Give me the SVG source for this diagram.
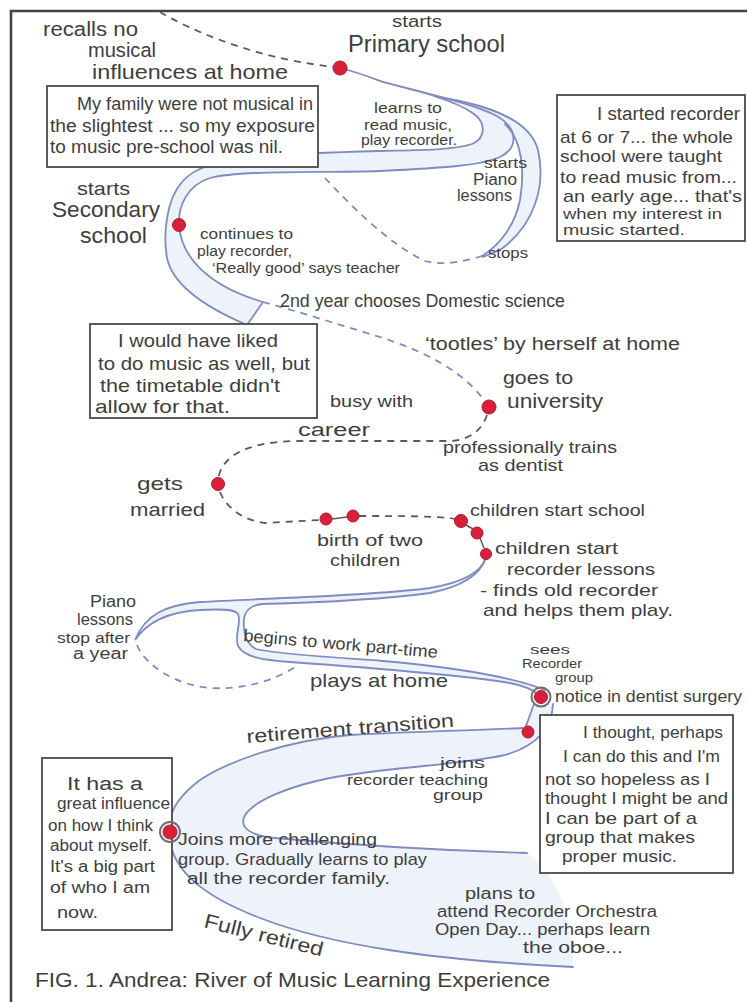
<svg xmlns="http://www.w3.org/2000/svg" width="747" height="1002" viewBox="0 0 747 1002">
<style>
.t{font-family:"Liberation Sans",Arial,sans-serif;fill:#3e3e3e}
.box{fill:#fff;stroke:#4a4a4a;stroke-width:1.8}
.dot{fill:#d9203a;stroke:#b3172c;stroke-width:1}
.ring{fill:none;stroke:#6e6e6e;stroke-width:2}
.bank{fill:none;stroke:#7f8cc2;stroke-width:1.8;stroke-linecap:round}
.water{fill:#eef2fa;stroke:none}
.dash{fill:none;stroke:#5a5a5a;stroke-width:1.8;stroke-dasharray:7 6}
.dashb{fill:none;stroke:#7f8cc2;stroke-width:1.8;stroke-dasharray:7 6}
.link{fill:none;stroke:#5a5a5a;stroke-width:1.5}
</style>
<rect width="747" height="1002" fill="#fff"/>
<path d="M11,1002 L11,11 L747,11" fill="none" stroke="#444" stroke-width="2.6"/>

<g id="connectors">
  <!-- top river -->
  <path class="water" d="M383,82 C420,92 480,105 500,118 C518,130 518,148 500,157 C480,166 440,168 380,171 C320,173 240,170 210,178 C188,185 178,205 179,225 C181,255 205,285 263,302 L247,325 C200,305 172,282 167,258 C163,235 166,200 182,182 C195,166 220,161 260,157 C300,153 340,152 380,151 C420,150 455,150 472,144 C486,138 486,123 474,114 C455,100 415,90 383,82 Z"/>
  <path class="water" d="M437,97 C490,105 530,120 538,150 C546,185 535,225 500,250 L483,257 C500,245 515,225 520,200 C525,170 522,140 505,124 Z"/>
  <path class="bank" d="M340,68 C360,73 372,78 383,82 C415,90 455,100 474,114 C486,123 486,138 472,144 C455,150 420,150 380,151 C340,152 300,153 260,157 C220,161 195,166 182,182 C166,200 163,235 167,258 C172,282 200,305 247,325 L263,302"/>
  <path class="bank" d="M383,82 C420,92 480,105 500,118 C518,130 518,148 500,157 C480,166 440,168 380,171 C320,173 240,170 210,178 C188,185 178,205 179,225 C181,255 205,285 263,302"/>
  <path class="bank" d="M437,97 C490,105 530,120 538,150 C546,185 535,225 500,250 L483,257"/>
  <path class="bank" d="M505,124 C522,140 525,170 520,200 C515,225 500,245 482,256"/>
  <path class="dashb" d="M325,178 C350,205 390,245 425,261 C445,266 465,261 482,256"/>
  <path class="dash" d="M160,12 C190,30 240,50 290,60 C310,64 325,66 333,67"/>
  <path class="dashb" d="M263,302 C300,312 340,325 380,337 C420,350 460,368 484,400"/>
  <path class="dash" d="M487,415 C482,430 470,440 450,441 L300,441 C265,441 240,448 228,460 C220,468 218,476 218,484"/>
  <path class="dash" d="M220,492 C225,505 240,520 265,523 L320,520"/>
  <path class="link" d="M332,519 L347,517"/>
  <path class="dash" d="M359,516 C400,516 440,516 455,519"/>
  <path class="link" d="M466,525 L473,529 M480,538 L484,548"/>
  <!-- middle river -->
  <path class="water" d="M486,557 C482,572 465,582 430,588 C370,596 270,598 200,602 C165,605 145,615 135,640 C145,625 165,612 200,610 C220,609 235,609 238,614 C242,622 234,635 238,646 C244,657 262,660 290,662 C360,667 460,675 510,683 C525,686 533,690 537,694 L545,690 C510,676 450,667 383,661 C330,657 275,654 256,649 C245,643 243,630 244,618 C246,609 252,605 262,604 C300,603 370,601 430,593 C455,588 480,578 486,557 Z"/>
  <path class="bank" d="M486,557 C482,572 465,582 430,588 C370,596 270,598 200,602 C165,605 145,615 135,640 C145,625 165,612 200,610 C220,609 235,609 238,614 C242,622 234,635 238,646 C244,657 262,660 290,662 C360,667 460,675 510,683 C525,686 533,690 537,694"/>
  <path class="bank" d="M486,557 C480,578 455,588 430,593 C370,601 300,603 262,604 C252,605 246,609 244,618 C243,630 245,643 256,649 C275,654 330,657 383,661 C450,667 510,676 545,690"/>
  <path class="dashb" d="M137,645 C145,665 175,685 210,688 C245,690 275,680 295,667"/>
  <!-- bottom river -->
  <path class="water" d="M535,704 L523,728 C490,730 420,731 350,735 C290,740 230,760 200,780 C180,795 171,810 170,822 L170,842 C175,870 200,895 260,918 C330,945 430,960 573,967 C575,930 560,875 527,853 C430,850 330,843 275,838 C252,836 238,828 245,815 C255,800 290,786 330,778 C380,768 460,765 505,755 C540,745 552,725 553,704 Z"/>
  <path class="bank" d="M534,704 L526,726"/>
  <path class="bank" d="M523,728 C490,730 420,731 350,735 C290,740 230,760 200,780 C180,795 171,810 170,822"/>
  <path class="bank" d="M553,704 C552,725 540,745 505,755 C460,765 380,768 330,778 C290,786 255,800 245,815 C238,828 252,836 275,838 C330,843 430,850 527,853"/>
  <path class="bank" d="M170,842 C175,870 200,895 260,918 C330,945 430,960 573,967"/>
</g>

<g id="box-family">
  <rect class="box" x="47" y="86" width="271" height="81"/>
  <text class="t" x="77" y="110" font-size="18" textLength="236" lengthAdjust="spacingAndGlyphs">My family were not musical in</text>
  <text class="t" x="50" y="132" font-size="18" textLength="265" lengthAdjust="spacingAndGlyphs">the slightest ... so my exposure</text>
  <text class="t" x="50" y="153" font-size="18" textLength="233" lengthAdjust="spacingAndGlyphs">to music pre-school was nil.</text>
</g>
<g id="box-recorder">
  <rect class="box" x="557" y="95" width="188" height="146"/>
  <text class="t" x="597" y="120" font-size="18" textLength="143" lengthAdjust="spacingAndGlyphs">I started recorder</text>
  <text class="t" x="560" y="143" font-size="17" textLength="173" lengthAdjust="spacingAndGlyphs">at 6 or 7... the whole</text>
  <text class="t" x="560" y="162" font-size="17" textLength="162" lengthAdjust="spacingAndGlyphs">school were taught</text>
  <text class="t" x="560" y="183" font-size="17" textLength="177" lengthAdjust="spacingAndGlyphs">to read music from...</text>
  <text class="t" x="563" y="202" font-size="17" textLength="179" lengthAdjust="spacingAndGlyphs">an early age... that's</text>
  <text class="t" x="563" y="219" font-size="15" textLength="159" lengthAdjust="spacingAndGlyphs">when my interest in</text>
  <text class="t" x="563" y="235" font-size="15" textLength="122" lengthAdjust="spacingAndGlyphs">music started.</text>
</g>
<g id="box-timetable">
  <rect class="box" x="90" y="324" width="227" height="94"/>
  <text class="t" x="118" y="347" font-size="19" textLength="160" lengthAdjust="spacingAndGlyphs">I would have liked</text>
  <text class="t" x="98" y="370" font-size="19" textLength="212" lengthAdjust="spacingAndGlyphs">to do music as well, but</text>
  <text class="t" x="100" y="392" font-size="19" textLength="180" lengthAdjust="spacingAndGlyphs">the timetable didn't</text>
  <text class="t" x="95" y="413" font-size="19" textLength="135" lengthAdjust="spacingAndGlyphs">allow for that.</text>
</g>
<g id="box-thought">
  <rect class="box" x="540" y="715" width="193" height="158"/>
  <text class="t" x="583" y="738" font-size="17" textLength="140" lengthAdjust="spacingAndGlyphs">I thought, perhaps</text>
  <text class="t" x="563" y="762" font-size="17" textLength="157" lengthAdjust="spacingAndGlyphs">I can do this and I'm</text>
  <text class="t" x="545" y="785" font-size="17" textLength="165" lengthAdjust="spacingAndGlyphs">not so hopeless as I</text>
  <text class="t" x="545" y="804" font-size="17" textLength="183" lengthAdjust="spacingAndGlyphs">thought I might be and</text>
  <text class="t" x="545" y="824" font-size="17" textLength="152" lengthAdjust="spacingAndGlyphs">I can be part of a</text>
  <text class="t" x="545" y="843" font-size="17" textLength="150" lengthAdjust="spacingAndGlyphs">group that makes</text>
  <text class="t" x="562" y="862" font-size="17" textLength="115" lengthAdjust="spacingAndGlyphs">proper music.</text>
</g>
<g id="box-influence">
  <rect class="box" x="42" y="758" width="130" height="172"/>
  <text class="t" x="67" y="790" font-size="18" textLength="76" lengthAdjust="spacingAndGlyphs">It has a</text>
  <text class="t" x="57" y="809" font-size="16" textLength="113" lengthAdjust="spacingAndGlyphs">great influence</text>
  <text class="t" x="48" y="831" font-size="16" textLength="105" lengthAdjust="spacingAndGlyphs">on how I think</text>
  <text class="t" x="50" y="851" font-size="16" textLength="102" lengthAdjust="spacingAndGlyphs">about myself.</text>
  <text class="t" x="50" y="872" font-size="16" textLength="105" lengthAdjust="spacingAndGlyphs">It's a big part</text>
  <text class="t" x="50" y="893" font-size="16" textLength="100" lengthAdjust="spacingAndGlyphs">of who I am</text>
  <text class="t" x="57" y="918" font-size="16" textLength="41" lengthAdjust="spacingAndGlyphs">now.</text>
</g>

<g id="recalls">
  <text class="t" x="43" y="36" font-size="20" textLength="95" lengthAdjust="spacingAndGlyphs">recalls no</text>
  <text class="t" x="88" y="57" font-size="20" textLength="68" lengthAdjust="spacingAndGlyphs">musical</text>
  <text class="t" x="92" y="79" font-size="21" textLength="196" lengthAdjust="spacingAndGlyphs">influences at home</text>
</g>
<g id="primary-school">
  <circle class="dot" cx="340" cy="68" r="7"/>
  <text class="t" x="392" y="27" font-size="16" textLength="50" lengthAdjust="spacingAndGlyphs">starts</text>
  <text class="t" x="348" y="52" font-size="23" textLength="157" lengthAdjust="spacingAndGlyphs">Primary school</text>
</g>
<g id="learns">
  <text class="t" x="374" y="113" font-size="15" textLength="68" lengthAdjust="spacingAndGlyphs">learns to</text>
  <text class="t" x="364" y="130" font-size="15" textLength="88" lengthAdjust="spacingAndGlyphs">read music,</text>
  <text class="t" x="361" y="145" font-size="15" textLength="96" lengthAdjust="spacingAndGlyphs">play recorder.</text>
</g>
<g id="piano-starts">
  <text class="t" x="484" y="168" font-size="15" textLength="43" lengthAdjust="spacingAndGlyphs">starts</text>
  <text class="t" x="473" y="185" font-size="16" textLength="44" lengthAdjust="spacingAndGlyphs">Piano</text>
  <text class="t" x="457" y="201" font-size="16" textLength="55" lengthAdjust="spacingAndGlyphs">lessons</text>
</g>
<g id="stops">
  <text class="t" x="488" y="258" font-size="15" textLength="40" lengthAdjust="spacingAndGlyphs">stops</text>
</g>
<g id="secondary-school">
  <circle class="dot" cx="179" cy="225" r="6.5"/>
  <text class="t" x="77" y="195" font-size="19" textLength="53" lengthAdjust="spacingAndGlyphs">starts</text>
  <text class="t" x="52" y="217" font-size="22" textLength="108" lengthAdjust="spacingAndGlyphs">Secondary</text>
  <text class="t" x="80" y="243" font-size="22" textLength="67" lengthAdjust="spacingAndGlyphs">school</text>
</g>
<g id="continues">
  <text class="t" x="200" y="239" font-size="14" textLength="93" lengthAdjust="spacingAndGlyphs">continues to</text>
  <text class="t" x="197" y="256" font-size="14" textLength="95" lengthAdjust="spacingAndGlyphs">play recorder,</text>
  <text class="t" x="212" y="273" font-size="14" textLength="188" lengthAdjust="spacingAndGlyphs">‘Really good’ says teacher</text>
</g>
<g id="second-year">
  <text class="t" x="280" y="307" font-size="18" textLength="285" lengthAdjust="spacingAndGlyphs">2nd year chooses Domestic science</text>
</g>
<g id="tootles">
  <text class="t" x="425" y="350" font-size="18" textLength="255" lengthAdjust="spacingAndGlyphs">‘tootles’ by herself at home</text>
</g>
<g id="university">
  <circle class="dot" cx="489" cy="407" r="7"/>
  <text class="t" x="503" y="384" font-size="19" textLength="70" lengthAdjust="spacingAndGlyphs">goes to</text>
  <text class="t" x="507" y="408" font-size="21" textLength="96" lengthAdjust="spacingAndGlyphs">university</text>
</g>
<g id="career">
  <text class="t" x="330" y="407" font-size="17" textLength="83" lengthAdjust="spacingAndGlyphs">busy with</text>
  <text class="t" x="298" y="436" font-size="18" textLength="72" lengthAdjust="spacingAndGlyphs">career</text>
</g>
<g id="dentist">
  <text class="t" x="443" y="453" font-size="17" textLength="174" lengthAdjust="spacingAndGlyphs">professionally trains</text>
  <text class="t" x="478" y="471" font-size="17" textLength="85" lengthAdjust="spacingAndGlyphs">as dentist</text>
</g>
<g id="married">
  <circle class="dot" cx="218" cy="484" r="6.5"/>
  <text class="t" x="137" y="490" font-size="19" textLength="46" lengthAdjust="spacingAndGlyphs">gets</text>
  <text class="t" x="130" y="516" font-size="19" textLength="75" lengthAdjust="spacingAndGlyphs">married</text>
</g>
<g id="births">
  <circle class="dot" cx="326" cy="519" r="6"/>
  <circle class="dot" cx="353" cy="516" r="6"/>
  <text class="t" x="317" y="546" font-size="16" textLength="106" lengthAdjust="spacingAndGlyphs">birth of two</text>
  <text class="t" x="330" y="566" font-size="16" textLength="70" lengthAdjust="spacingAndGlyphs">children</text>
</g>
<g id="children-school">
  <circle class="dot" cx="461" cy="521" r="6.5"/>
  <circle class="dot" cx="477" cy="533" r="6"/>
  <text class="t" x="470" y="516" font-size="17" textLength="175" lengthAdjust="spacingAndGlyphs">children start school</text>
</g>
<g id="children-recorder">
  <circle class="dot" cx="486" cy="554" r="5.5"/>
  <text class="t" x="495" y="554" font-size="17" textLength="123" lengthAdjust="spacingAndGlyphs">children start</text>
  <text class="t" x="507" y="575" font-size="17" textLength="148" lengthAdjust="spacingAndGlyphs">recorder lessons</text>
  <text class="t" x="480" y="596" font-size="17" textLength="178" lengthAdjust="spacingAndGlyphs">- finds old recorder</text>
  <text class="t" x="483" y="616" font-size="17" textLength="190" lengthAdjust="spacingAndGlyphs">and helps them play.</text>
</g>
<g id="piano-stop">
  <text class="t" x="90" y="607" font-size="16" textLength="46" lengthAdjust="spacingAndGlyphs">Piano</text>
  <text class="t" x="77" y="625" font-size="16" textLength="56" lengthAdjust="spacingAndGlyphs">lessons</text>
  <text class="t" x="57" y="643" font-size="15" textLength="73" lengthAdjust="spacingAndGlyphs">stop after</text>
  <text class="t" x="73" y="659" font-size="16" textLength="55" lengthAdjust="spacingAndGlyphs">a year</text>
</g>
<g id="part-time">
  <text class="t" x="243" y="641" font-size="17" textLength="195" lengthAdjust="spacingAndGlyphs" transform="rotate(5 243 641)">begins to work part-time</text>
  <text class="t" x="310" y="687" font-size="19" textLength="138" lengthAdjust="spacingAndGlyphs">plays at home</text>
</g>
<g id="notice">
  <circle class="ring" cx="541" cy="697" r="9.5"/>
  <circle class="dot" cx="541" cy="697" r="6.5"/>
  <text class="t" x="530" y="654" font-size="13" textLength="40" lengthAdjust="spacingAndGlyphs">sees</text>
  <text class="t" x="522" y="668" font-size="12" textLength="60" lengthAdjust="spacingAndGlyphs">Recorder</text>
  <text class="t" x="555" y="682" font-size="13" textLength="38" lengthAdjust="spacingAndGlyphs">group</text>
  <text class="t" x="555" y="702" font-size="16" textLength="187" lengthAdjust="spacingAndGlyphs">notice in dentist surgery</text>
</g>
<g id="teaching-group">
  <circle class="dot" cx="528" cy="732" r="6"/>
  <text class="t" x="247" y="743" font-size="19" textLength="208" lengthAdjust="spacingAndGlyphs" transform="rotate(-4.5 247 743)">retirement transition</text>
  <text class="t" x="440" y="768" font-size="15" textLength="45" lengthAdjust="spacingAndGlyphs">joins</text>
  <text class="t" x="347" y="785" font-size="15" textLength="141" lengthAdjust="spacingAndGlyphs">recorder teaching</text>
  <text class="t" x="433" y="800" font-size="15" textLength="50" lengthAdjust="spacingAndGlyphs">group</text>
</g>
<g id="challenging-group">
  <circle class="ring" cx="170" cy="832" r="10"/>
  <circle class="dot" cx="170" cy="832" r="7"/>
  <text class="t" x="178" y="845" font-size="17" textLength="199" lengthAdjust="spacingAndGlyphs">Joins more challenging</text>
  <text class="t" x="178" y="865" font-size="17" textLength="249" lengthAdjust="spacingAndGlyphs">group. Gradually learns to play</text>
  <text class="t" x="187" y="884" font-size="16" textLength="203" lengthAdjust="spacingAndGlyphs">all the recorder family.</text>
</g>
<g id="plans">
  <text class="t" x="465" y="899" font-size="16" textLength="70" lengthAdjust="spacingAndGlyphs">plans to</text>
  <text class="t" x="437" y="917" font-size="16" textLength="220" lengthAdjust="spacingAndGlyphs">attend Recorder Orchestra</text>
  <text class="t" x="435" y="935" font-size="16" textLength="215" lengthAdjust="spacingAndGlyphs">Open Day... perhaps learn</text>
  <text class="t" x="523" y="953" font-size="16" textLength="100" lengthAdjust="spacingAndGlyphs">the oboe...</text>
</g>
<g id="fully-retired">
  <text class="t" x="203" y="927" font-size="20" textLength="122" lengthAdjust="spacingAndGlyphs" transform="rotate(14 203 927)">Fully retired</text>
</g>
<g id="caption">
  <text class="t" x="35" y="987" font-size="21" textLength="515" lengthAdjust="spacingAndGlyphs">FIG. 1. Andrea: River of Music Learning Experience</text>
</g>
</svg>
